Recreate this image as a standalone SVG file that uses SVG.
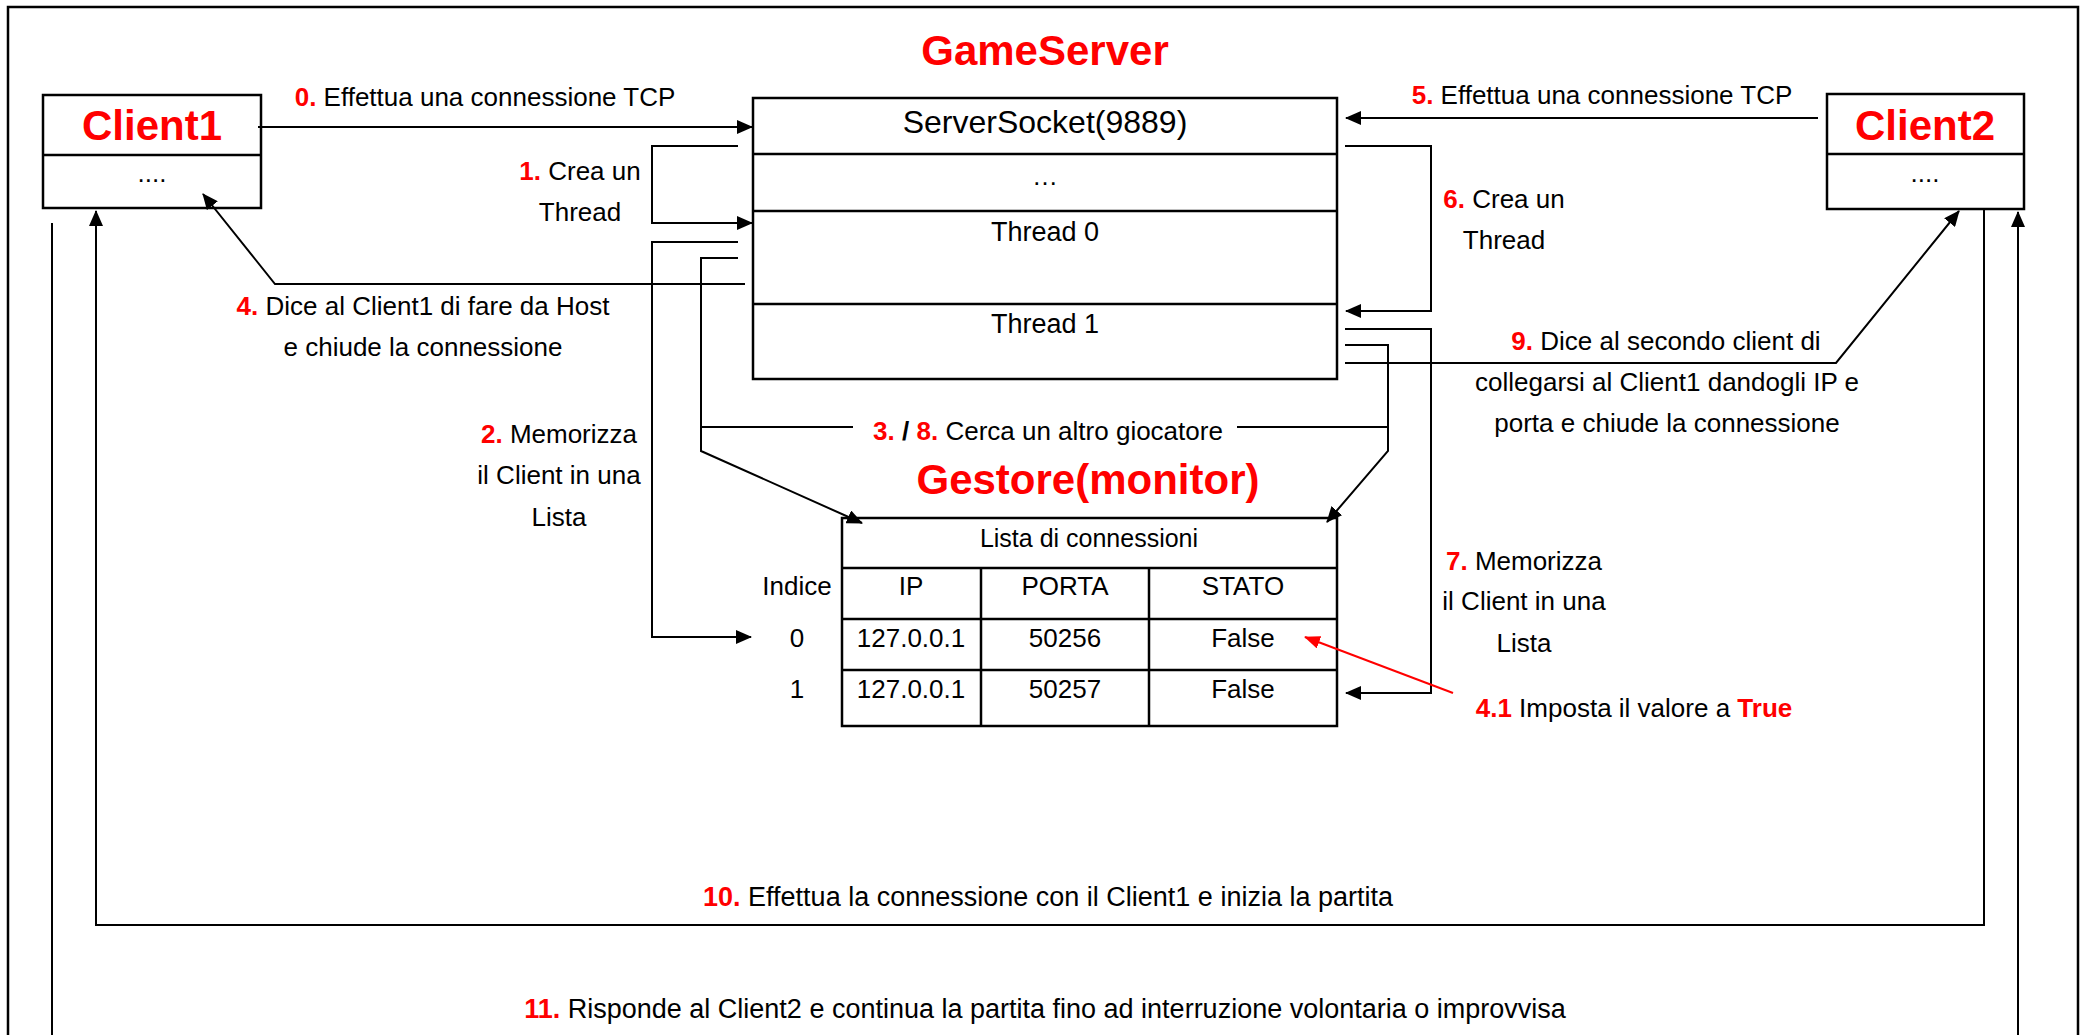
<svg xmlns="http://www.w3.org/2000/svg" width="2085" height="1035" viewBox="0 0 2085 1035">
<style>
text{font-family:"Liberation Sans",Arial,sans-serif;font-size:26px;fill:#000;text-anchor:middle}
.n{fill:#ff0000;font-weight:bold}
.b{font-weight:bold}
.title{font-size:42px;font-weight:bold;fill:#ff0000}
.box{fill:#fff;stroke:#000;stroke-width:2.5}
.ln{fill:none;stroke:#000;stroke-width:2.5}
.c{fill:none;stroke:#000;stroke-width:2}
.ca{fill:none;stroke:#000;stroke-width:2;marker-end:url(#ah)}
.red{fill:none;stroke:#ff0000;stroke-width:2;marker-end:url(#rh)}
.srv{font-size:32px}
.th{font-size:27px}
.tb{font-size:25px}
.lg{font-size:27px}
</style>
<defs>
<marker id="ah" markerUnits="userSpaceOnUse" markerWidth="16" markerHeight="14" viewBox="0 0 16 14" refX="15" refY="7" orient="auto"><path d="M0,0 L16,7 L0,14 z" fill="#000"/></marker>
<marker id="rh" markerUnits="userSpaceOnUse" markerWidth="16" markerHeight="13" viewBox="0 0 16 13" refX="15" refY="6.5" orient="auto"><path d="M0,0 L16,6.5 L0,13 z" fill="#ff0000"/></marker>
</defs>
<rect width="2085" height="1035" fill="#fff"/>
<path class="ln" d="M8 1035 V7 H2078 V1035"/>

<g id="client1">
<rect class="box" x="43" y="95" width="218" height="113"/>
<line class="ln" x1="43" y1="155" x2="261" y2="155"/>
<text class="title" x="152" y="140">Client1</text>
<text x="152" y="182">....</text>
</g>

<g id="client2">
<rect class="box" x="1827" y="94" width="197" height="115"/>
<line class="ln" x1="1827" y1="154" x2="2024" y2="154"/>
<text class="title" x="1925" y="140">Client2</text>
<text x="1925" y="182">....</text>
</g>

<g id="gameserver">
<text class="title" x="1045" y="65">GameServer</text>
<rect class="box" x="753" y="98" width="584" height="281"/>
<line class="ln" x1="753" y1="154" x2="1337" y2="154"/>
<line class="ln" x1="753" y1="211" x2="1337" y2="211"/>
<line class="ln" x1="753" y1="304" x2="1337" y2="304"/>
<text class="srv" x="1045" y="133">ServerSocket(9889)</text>
<text x="1045" y="185">…</text>
<text class="th" x="1045" y="241">Thread 0</text>
<text class="th" x="1045" y="333">Thread 1</text>
</g>

<g id="gestore">
<text class="title" x="1088" y="494">Gestore(monitor)</text>
<rect class="box" x="842" y="518" width="495" height="208"/>
<line class="ln" x1="842" y1="568" x2="1337" y2="568"/>
<line class="ln" x1="842" y1="619" x2="1337" y2="619"/>
<line class="ln" x1="842" y1="670" x2="1337" y2="670"/>
<line class="ln" x1="981" y1="568" x2="981" y2="726"/>
<line class="ln" x1="1149" y1="568" x2="1149" y2="726"/>
<text class="tb" x="1089" y="547">Lista di connessioni</text>
<text x="797" y="595">Indice</text>
<text x="911" y="595">IP</text>
<text x="1065" y="595">PORTA</text>
<text x="1243" y="595">STATO</text>
<text x="797" y="647">0</text>
<text x="911" y="647">127.0.0.1</text>
<text x="1065" y="647">50256</text>
<text x="1243" y="647">False</text>
<text x="797" y="698">1</text>
<text x="911" y="698">127.0.0.1</text>
<text x="1065" y="698">50257</text>
<text x="1243" y="698">False</text>
</g>

<g id="connectors">
<path class="ca" d="M258 127 H752"/>
<path class="ca" d="M1818 118 H1346"/>
<path class="ca" d="M738 146 H652 V223 H752"/>
<path class="ca" d="M1345 146 H1431 V311 H1346"/>
<path class="ca" d="M738 242 H652 V637 H751"/>
<path class="ca" d="M738 258 H701 V451 L862 523"/>
<path class="c" d="M701 427 H853"/>
<path class="ca" d="M745 284 H275 L203 194"/>
<path class="ca" d="M1345 329 H1431 V693 H1346"/>
<path class="ca" d="M1345 345 H1388 V451 L1327 522"/>
<path class="c" d="M1237 427 H1388"/>
<path class="ca" d="M1345 363 H1836 L1959 211"/>
<path class="ca" d="M1984 210 V925 H96 V211"/>
<path class="c" d="M52 223 V1035"/>
<path class="ca" d="M2018 1035 V212"/>
<path class="red" d="M1453 693 L1305 637"/>
</g>

<g id="labels">
<text x="485" y="106"><tspan class="n">0.</tspan> Effettua una connessione TCP</text>
<text x="1602" y="104"><tspan class="n">5.</tspan> Effettua una connessione TCP</text>
<text x="580" y="180"><tspan class="n">1.</tspan> Crea un</text>
<text x="580" y="221">Thread</text>
<text x="1504" y="208"><tspan class="n">6.</tspan> Crea un</text>
<text x="1504" y="249">Thread</text>
<text x="423" y="315"><tspan class="n">4.</tspan> Dice al Client1 di fare da Host</text>
<text x="423" y="356">e chiude la connessione</text>
<text x="1666" y="350"><tspan class="n">9.</tspan> Dice al secondo client di</text>
<text x="1667" y="391">collegarsi al Client1 dandogli IP e</text>
<text x="1667" y="432">porta e chiude la connessione</text>
<text x="559" y="443"><tspan class="n">2.</tspan> Memorizza</text>
<text x="559" y="484">il Client in una</text>
<text x="559" y="526">Lista</text>
<text x="1524" y="570"><tspan class="n">7.</tspan> Memorizza</text>
<text x="1524" y="610">il Client in una</text>
<text x="1524" y="652">Lista</text>
<text x="1048" y="440"><tspan class="n">3.</tspan> <tspan class="b">/</tspan> <tspan class="n">8.</tspan> Cerca un altro giocatore</text>
<text x="1634" y="717"><tspan class="n">4.1</tspan> Imposta il valore a <tspan class="n">True</tspan></text>
<text class="lg" x="1048" y="906"><tspan class="n">10.</tspan> Effettua la connessione con il Client1 e inizia la partita</text>
<text class="lg" x="1045" y="1018"><tspan class="n">11.</tspan> Risponde al Client2 e continua la partita fino ad interruzione volontaria o improvvisa</text>
</g>
</svg>
